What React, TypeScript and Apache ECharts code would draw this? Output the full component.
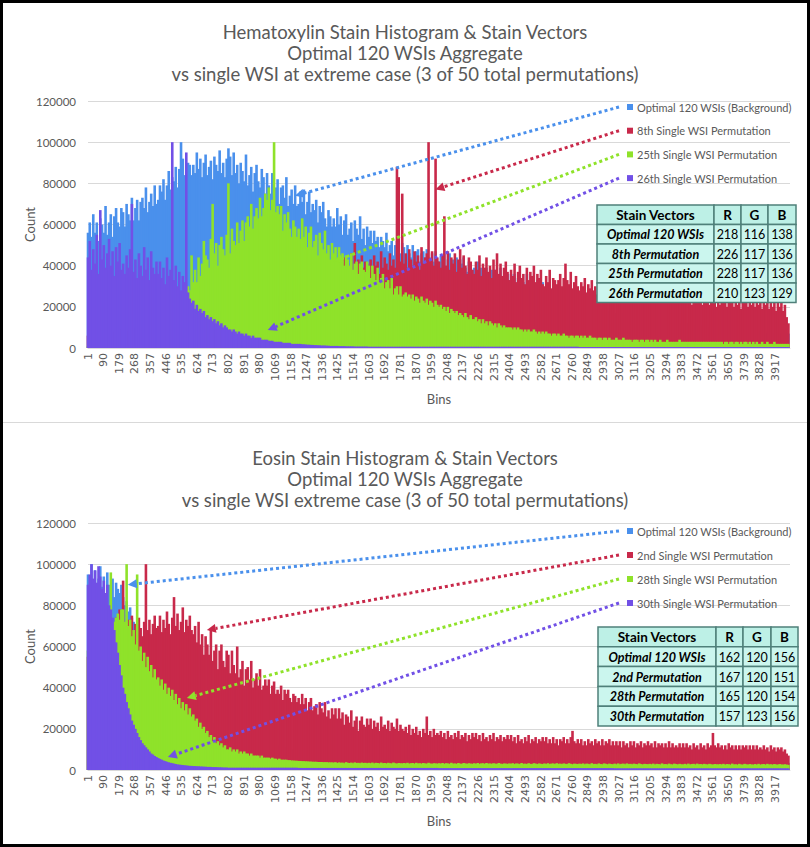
import React, { useEffect, useRef } from 'react';
import * as echarts from 'echarts';

// ---------- axes ----------
const BIN_STEP = 10;
const BINS: number[] = Array.from({ length: 400 }, (_, i) => 1 + i * BIN_STEP);
const X_MIN = 1;
const X_MAX = 4000;
const X_TICK_STEP = 89;
const Y_MAX = 120000;
const Y_STEP = 20000;

// ---------- titles / names ----------
const H_TITLE = [
  'Hematoxylin Stain Histogram & Stain Vectors',
  'Optimal 120 WSIs Aggregate',
  'vs single WSI at extreme case (3 of 50 total permutations)',
];
const E_TITLE = [
  'Eosin Stain Histogram & Stain Vectors',
  'Optimal 120 WSIs Aggregate',
  'vs single WSI extreme case (3 of 50 total permutations)',
];
const H_NAMES = [
  'Optimal 120 WSIs (Background)',
  '8th Single WSI Permutation',
  '25th Single WSI Permutation',
  '26th Single WSI Permutation',
];
const E_NAMES = [
  'Optimal 120 WSIs (Background)',
  '2nd Single WSI Permutation',
  '28th Single WSI Permutation',
  '30th Single WSI Permutation',
];
const COLORS = ['#4a90ec', '#c8294a', '#8fe22a', '#7150e6'];

// ---------- Hematoxylin counts (thousands); one value per 10-bin step, 20 per row (200 bins) ----------
const H_BLUE_K = [
  56, 61, 54, 65, 56, 61, 52, 63, 60, 56, 69, 55, 61, 65, 54, 64, 68, 61, 59, 68,
  66, 59, 70, 65, 62, 73, 62, 68, 72, 62, 71, 73, 68, 78, 66, 71, 75, 69, 79, 70,
  72, 79, 76, 82, 72, 79, 86, 77, 83, 81, 88, 78, 87, 100, 92, 84, 82, 90, 89, 84,
  89, 85, 95, 87, 92, 83, 90, 94, 84, 88, 91, 82, 93, 89, 86, 96, 85, 90, 83, 92,
  97, 93, 84, 95, 85, 89, 80, 90, 86, 81, 94, 79, 84, 88, 76, 85, 89, 81, 78, 87,
  83, 75, 85, 79, 75, 85, 73, 78, 82, 70, 78, 79, 73, 83, 69, 74, 77, 70, 79, 69,
  70, 76, 71, 77, 65, 71, 76, 66, 70, 67, 72, 61, 69, 66, 71, 63, 59, 67, 64, 59,
  63, 59, 68, 60, 64, 55, 62, 65, 55, 58, 61, 52, 62, 58, 55, 64, 53, 58, 50, 59,
  54, 57, 51, 57, 52, 54, 49, 54, 52, 49, 56, 47, 50, 52, 45, 50, 52, 47, 46, 51,
  49, 44, 50, 46, 44, 50, 44, 47, 48, 42, 46, 47, 44, 48, 41, 44, 46, 42, 47, 42,
  42, 45, 43, 46, 39, 43, 46, 40, 43, 40, 44, 38, 43, 41, 44, 39, 37, 42, 41, 38,
  39, 36, 42, 36, 39, 34, 38, 39, 34, 36, 38, 32, 38, 36, 34, 39, 32, 35, 31, 36,
  33, 36, 31, 36, 31, 34, 29, 33, 32, 29, 36, 28, 30, 32, 26, 31, 33, 28, 27, 32,
  27, 26, 27, 26, 26, 25, 26, 25, 25, 24, 25, 24, 24, 23, 24, 23, 23, 22, 23, 22,
  22, 21, 22, 21, 21, 20, 21, 20, 20, 19, 20, 19, 19, 19, 19, 18, 18, 18, 18, 17,
  17, 17, 17, 16, 17, 16, 16, 16, 16, 15, 16, 15, 15, 15, 15, 15, 14, 15, 14, 14,
  14, 14, 14, 13, 14, 13, 13, 13, 13, 13, 13, 12, 13, 12, 12, 12, 12, 12, 12, 11,
  12, 11, 12, 11, 11, 11, 11, 11, 11, 10, 11, 10, 10, 10, 10, 10, 10, 10, 10, 10,
  10, 9, 10, 9, 9, 9, 9, 9, 9, 9, 9, 9, 9, 8, 9, 8, 8, 8, 8, 8,
  8, 8, 8, 8, 8, 8, 8, 7, 8, 7, 7, 7, 7, 7, 7, 7, 7, 7, 7, 7,
];
const H_RED_K = [
  6, 6, 7, 6, 7, 7, 6, 7, 7, 7, 8, 7, 8, 8, 7, 8, 8, 8, 8, 9,
  8, 9, 9, 8, 9, 9, 10, 9, 9, 10, 10, 9, 10, 10, 11, 10, 10, 11, 11, 11,
  10, 11, 11, 12, 11, 12, 12, 11, 12, 12, 13, 12, 13, 13, 12, 13, 13, 14, 13, 14,
  14, 15, 14, 15, 16, 15, 16, 16, 15, 16, 17, 16, 17, 17, 16, 17, 18, 17, 18, 18,
  18, 19, 18, 19, 19, 20, 19, 20, 20, 19, 20, 21, 20, 21, 21, 20, 21, 22, 21, 22,
  22, 23, 22, 23, 24, 23, 24, 25, 24, 25, 26, 25, 26, 27, 26, 27, 28, 27, 28, 29,
  28, 31, 29, 34, 30, 33, 35, 30, 38, 32, 36, 31, 34, 37, 33, 35, 30, 36, 34, 38,
  34, 39, 36, 42, 35, 40, 44, 37, 41, 38, 46, 36, 51, 40, 43, 37, 45, 39, 42, 41,
  38, 43, 37, 45, 40, 42, 36, 47, 39, 44, 41, 38, 46, 40, 43, 39, 88, 83, 42, 75,
  41, 46, 39, 48, 43, 40, 47, 42, 45, 38, 49, 41, 44, 46, 100, 43, 47, 40, 92, 44,
  42, 39, 45, 64, 40, 47, 38, 44, 41, 46, 37, 43, 48, 39, 45, 40, 36, 44, 42, 38,
  36, 42, 38, 45, 35, 41, 39, 44, 37, 40, 34, 43, 38, 46, 36, 41, 35, 39, 42, 37,
  33, 38, 35, 41, 32, 37, 40, 34, 36, 31, 39, 33, 37, 35, 40, 32, 36, 34, 38, 31,
  30, 35, 32, 38, 29, 34, 33, 31, 33, 36, 30, 34, 41, 33, 31, 37, 29, 32, 35, 30,
  28, 32, 30, 34, 27, 31, 29, 33, 28, 30, 26, 32, 29, 31, 27, 33, 28, 30, 26, 31,
  26, 30, 28, 33, 25, 29, 27, 31, 24, 28, 34, 26, 29, 27, 30, 25, 28, 26, 29, 24,
  24, 28, 26, 30, 23, 27, 25, 29, 23, 26, 24, 28, 22, 27, 25, 29, 23, 26, 24, 27,
  22, 27, 24, 28, 21, 26, 23, 27, 22, 25, 21, 26, 23, 28, 21, 25, 22, 26, 20, 25,
  21, 25, 23, 29, 20, 24, 22, 26, 20, 24, 21, 25, 19, 24, 22, 28, 20, 23, 21, 25,
  20, 24, 21, 26, 19, 23, 21, 25, 19, 22, 20, 24, 18, 23, 20, 22, 18, 21, 15, 12,
];
const H_GREEN_K = [
  1, 1, 1, 1, 1, 1, 1, 1, 1, 1, 1, 1, 1, 1, 1, 1, 1, 1, 1, 1,
  1, 1, 1, 1, 1, 1, 1, 1, 1, 1, 1, 1, 1, 2, 1, 2, 2, 2, 2, 2,
  2, 2, 2, 3, 3, 3, 3, 4, 4, 5, 7, 9, 12, 15, 18, 22, 26, 30, 28, 45,
  32, 38, 32, 44, 35, 41, 52, 45, 43, 39, 53, 70, 46, 51, 40, 50, 54, 48, 45, 55,
  80, 46, 58, 52, 50, 61, 51, 57, 62, 52, 61, 64, 59, 70, 58, 64, 68, 63, 73, 64,
  68, 75, 72, 78, 67, 72, 100, 66, 69, 65, 69, 57, 65, 61, 66, 58, 54, 62, 59, 54,
  58, 53, 63, 54, 59, 49, 56, 59, 49, 52, 55, 45, 56, 51, 48, 57, 46, 50, 43, 51,
  46, 49, 43, 49, 43, 46, 40, 45, 43, 40, 46, 38, 41, 42, 36, 41, 42, 38, 37, 42,
  40, 34, 40, 36, 33, 39, 32, 34, 36, 29, 32, 33, 29, 34, 26, 29, 30, 26, 30, 25,
  26, 27, 25, 26, 24, 26, 23, 25, 24, 22, 25, 23, 22, 24, 21, 23, 22, 20, 23, 21,
  20, 21, 19, 20, 18, 20, 17, 19, 18, 17, 18, 16, 17, 16, 15, 17, 15, 14, 16, 14,
  14, 15, 13, 14, 12, 14, 12, 13, 11, 13, 12, 11, 12, 10, 12, 11, 10, 11, 10, 10,
  10, 10, 9, 10, 9, 10, 9, 9, 8, 9, 8, 9, 8, 8, 9, 8, 7, 8, 7, 8,
  7, 8, 7, 7, 6, 7, 7, 6, 7, 6, 6, 7, 6, 6, 5, 6, 6, 5, 6, 6,
  5, 6, 5, 6, 5, 5, 6, 5, 5, 5, 4, 5, 5, 4, 5, 5, 4, 5, 4, 4,
  4, 5, 4, 4, 4, 5, 4, 4, 4, 4, 3, 4, 4, 4, 3, 4, 4, 3, 4, 4,
  3, 4, 3, 4, 3, 3, 4, 3, 3, 3, 4, 3, 3, 3, 3, 3, 3, 4, 3, 3,
  3, 3, 3, 3, 3, 3, 3, 3, 3, 3, 3, 3, 3, 3, 3, 3, 3, 3, 3, 3,
  3, 3, 2, 3, 3, 2, 3, 3, 2, 3, 3, 2, 3, 2, 3, 3, 2, 3, 2, 3,
  2, 3, 2, 2, 3, 2, 2, 3, 2, 2, 2, 3, 2, 2, 2, 2, 2, 2, 2, 2,
];
const H_PURPLE_K = [
  44, 52, 38, 48, 41, 55, 36, 67, 43, 50, 39, 46, 53, 40, 47, 35, 49, 42, 51, 38,
  41, 36, 45, 39, 48, 70, 37, 43, 34, 46, 40, 35, 49, 38, 44, 33, 47, 39, 36, 42,
  36, 42, 34, 39, 31, 44, 35, 38, 100, 33, 40, 30, 37, 28, 35, 32, 95, 27, 24, 22,
  23, 19, 21, 18, 19, 17, 18, 15, 16, 14, 15, 13, 14, 12, 13, 11, 12, 10, 11, 10,
  9, 9, 8, 9, 8, 7, 8, 7, 7, 6, 7, 6, 6, 5, 6, 5, 5, 5, 5, 4,
  4, 4, 4, 3.5, 3.5, 3.5, 3, 3, 3, 3, 3, 2.5, 2.5, 2.5, 2.5, 2.5, 2, 2, 2, 2,
  2, 2, 1.8, 1.8, 1.7, 1.6, 1.6, 1.5, 1.5, 1.4, 1.4, 1.3, 1.3, 1.2, 1.2, 1.2, 1.1, 1.1, 1, 1,
  1, 1, 1, 0.9, 0.9, 0.9, 0.9, 0.8, 0.8, 0.8, 0.8, 0.8, 0.7, 0.7, 0.7, 0.7, 0.7, 0.7, 0.7, 0.7,
  0.6, 0.6, 0.6, 0.6, 0.6, 0.6, 0.6, 0.6, 0.6, 0.6, 0.6, 0.6, 0.6, 0.6, 0.6, 0.6, 0.6, 0.6, 0.6, 0.6,
  0.6, 0.6, 0.6, 0.6, 0.6, 0.6, 0.6, 0.6, 0.6, 0.6, 0.6, 0.6, 0.6, 0.6, 0.6, 0.6, 0.6, 0.6, 0.6, 0.6,
  0.6, 0.6, 0.6, 0.6, 0.6, 0.6, 0.6, 0.6, 0.6, 0.6, 0.6, 0.6, 0.6, 0.6, 0.6, 0.6, 0.6, 0.6, 0.6, 0.6,
  0.6, 0.6, 0.6, 0.6, 0.6, 0.6, 0.6, 0.6, 0.6, 0.6, 0.6, 0.6, 0.6, 0.6, 0.6, 0.6, 0.6, 0.6, 0.6, 0.6,
  0.6, 0.6, 0.6, 0.6, 0.6, 0.6, 0.6, 0.6, 0.6, 0.6, 0.6, 0.6, 0.6, 0.6, 0.6, 0.6, 0.6, 0.6, 0.6, 0.6,
  0.6, 0.6, 0.6, 0.6, 0.6, 0.6, 0.6, 0.6, 0.6, 0.6, 0.6, 0.6, 0.6, 0.6, 0.6, 0.6, 0.6, 0.6, 0.6, 0.6,
  0.5, 0.5, 0.5, 0.5, 0.5, 0.5, 0.5, 0.5, 0.5, 0.5, 0.5, 0.5, 0.5, 0.5, 0.5, 0.5, 0.5, 0.5, 0.5, 0.5,
  0.5, 0.5, 0.5, 0.5, 0.5, 0.5, 0.5, 0.5, 0.5, 0.5, 0.5, 0.5, 0.5, 0.5, 0.5, 0.5, 0.5, 0.5, 0.5, 0.5,
  0.5, 0.5, 0.5, 0.5, 0.5, 0.5, 0.5, 0.5, 0.5, 0.5, 0.5, 0.5, 0.5, 0.5, 0.5, 0.5, 0.5, 0.5, 0.5, 0.5,
  0.5, 0.5, 0.5, 0.5, 0.5, 0.5, 0.5, 0.5, 0.5, 0.5, 0.5, 0.5, 0.5, 0.5, 0.5, 0.5, 0.5, 0.5, 0.5, 0.5,
  0.5, 0.5, 0.5, 0.5, 0.5, 0.5, 0.5, 0.5, 0.5, 0.5, 0.5, 0.5, 0.5, 0.5, 0.5, 0.5, 0.5, 0.5, 0.5, 0.5,
  0.5, 0.5, 0.5, 0.5, 0.5, 0.5, 0.5, 0.5, 0.5, 0.5, 0.5, 0.5, 0.5, 0.5, 0.5, 0.5, 0.5, 0.5, 0.5, 0.5,
];

// ---------- Eosin counts (thousands) ----------
const E_BLUE_K = [
  95, 88, 100, 91, 97, 86, 93, 99, 89, 94, 85, 96, 90, 87, 93, 84, 91, 88, 86, 90,
  84, 80, 82, 77, 79, 74, 72, 70, 67, 65, 63, 61, 59, 57, 55, 53, 51, 50, 48, 47,
  46, 45, 44, 43, 42, 41, 40, 39, 38, 37, 36, 35, 34, 34, 33, 32, 31, 31, 30, 29,
  29, 28, 27, 27, 26, 26, 25, 25, 24, 24, 23, 23, 22, 22, 22, 21, 21, 20, 20, 20,
  19, 19, 19, 18, 18, 18, 17, 17, 17, 16, 16, 16, 15, 15, 15, 15, 14, 14, 14, 14,
  13, 13, 13, 13, 12, 12, 12, 12, 12, 11, 11, 11, 11, 11, 10, 10, 10, 10, 10, 10,
  10, 9, 9, 9, 9, 9, 9, 8, 8, 8, 8, 8, 8, 8, 8, 7, 7, 7, 7, 7,
  7, 7, 7, 7, 6, 6, 6, 6, 6, 6, 6, 6, 6, 6, 5, 5, 5, 5, 5, 5,
  5, 5, 5, 5, 5, 5, 5, 5, 5, 5, 5, 5, 5, 5, 5, 5, 5, 5, 5, 5,
  4.5, 4.5, 4.5, 4.5, 4.5, 4.5, 4.5, 4.5, 4.5, 4.5, 4.5, 4.5, 4.5, 4.5, 4.5, 4.5, 4.5, 4.5, 4.5, 4.5,
  4, 4, 4, 4, 4, 4, 4, 4, 4, 4, 4, 4, 4, 4, 4, 4, 4, 4, 4, 4,
  4, 4, 4, 4, 4, 4, 4, 4, 4, 4, 4, 4, 4, 4, 4, 4, 4, 4, 4, 4,
  4, 4, 4, 4, 4, 4, 4, 4, 4, 4, 4, 4, 4, 4, 4, 4, 4, 4, 4, 4,
  4, 4, 4, 4, 4, 4, 4, 4, 4, 4, 4, 4, 4, 4, 4, 4, 4, 4, 4, 4,
  4, 4, 4, 4, 4, 4, 4, 4, 4, 4, 4, 4, 4, 4, 4, 4, 4, 4, 4, 4,
  3.5, 3.5, 3.5, 3.5, 3.5, 3.5, 3.5, 3.5, 3.5, 3.5, 3.5, 3.5, 3.5, 3.5, 3.5, 3.5, 3.5, 3.5, 3.5, 3.5,
  3.5, 3.5, 3.5, 3.5, 3.5, 3.5, 3.5, 3.5, 3.5, 3.5, 3.5, 3.5, 3.5, 3.5, 3.5, 3.5, 3.5, 3.5, 3.5, 3.5,
  3.5, 3.5, 3.5, 3.5, 3.5, 3.5, 3.5, 3.5, 3.5, 3.5, 3.5, 3.5, 3.5, 3.5, 3.5, 3.5, 3.5, 3.5, 3.5, 3.5,
  3.5, 3.5, 3.5, 3.5, 3.5, 3.5, 3.5, 3.5, 3.5, 3.5, 3.5, 3.5, 3.5, 3.5, 3.5, 3.5, 3.5, 3.5, 3.5, 3.5,
  3.5, 3.5, 3.5, 3.5, 3.5, 3.5, 3.5, 3.5, 3.5, 3.5, 3.5, 3.5, 3.5, 3.5, 3.5, 3.5, 3.5, 3.5, 3.5, 3.5,
];
const E_RED_K = [
  55, 56, 57, 58, 58, 59, 60, 61, 62, 62, 63, 64, 65, 66, 66, 68, 74, 70, 78, 72,
  92, 70, 66, 73, 68, 75, 64, 71, 67, 74, 69, 65, 72, 100, 68, 73, 66, 71, 75, 69,
  70, 75, 67, 73, 69, 77, 71, 66, 74, 84, 70, 76, 68, 72, 79, 67, 73, 70, 75, 68,
  66, 70, 62, 72, 61, 66, 56, 65, 61, 56, 68, 53, 58, 61, 49, 58, 61, 53, 50, 58,
  56, 47, 58, 51, 47, 60, 45, 49, 53, 41, 49, 50, 44, 53, 40, 44, 47, 41, 49, 39,
  41, 44, 41, 44, 37, 41, 43, 37, 39, 37, 41, 34, 39, 37, 39, 35, 33, 37, 36, 33,
  35, 32, 37, 32, 35, 29, 33, 35, 29, 31, 32, 27, 33, 30, 28, 33, 26, 29, 25, 30,
  27, 30, 25, 30, 25, 28, 22, 27, 26, 23, 29, 21, 24, 26, 19, 24, 26, 22, 21, 25,
  22, 25, 20, 24, 21, 23, 19, 26, 21, 22, 20, 24, 19, 23, 21, 20, 25, 19, 22, 20,
  19, 21, 18, 22, 17, 20, 18, 21, 17, 19, 16, 20, 18, 26, 17, 19, 16, 20, 17, 18,
  17, 19, 16, 18, 15, 19, 16, 17, 15, 18, 16, 19, 15, 17, 16, 18, 14, 17, 15, 18,
  16, 18, 15, 17, 14, 18, 15, 16, 14, 17, 15, 18, 14, 16, 15, 17, 14, 16, 15, 17,
  15, 17, 14, 16, 13, 17, 14, 15, 13, 16, 14, 17, 13, 15, 14, 16, 13, 15, 14, 16,
  14, 16, 13, 15, 13, 16, 13, 15, 12, 15, 14, 16, 13, 15, 13, 16, 19, 14, 13, 15,
  13, 15, 12, 14, 12, 15, 13, 14, 12, 15, 13, 14, 12, 15, 12, 14, 13, 15, 12, 14,
  12, 14, 12, 14, 11, 14, 12, 13, 11, 14, 12, 14, 11, 13, 12, 14, 11, 13, 12, 14,
  12, 13, 11, 14, 11, 13, 12, 13, 11, 13, 11, 14, 11, 13, 11, 12, 11, 13, 11, 13,
  11, 13, 11, 12, 10, 13, 11, 12, 10, 13, 11, 12, 10, 13, 11, 12, 18, 12, 11, 13,
  11, 12, 10, 12, 10, 13, 11, 12, 10, 12, 10, 12, 10, 12, 11, 12, 10, 12, 10, 12,
  10, 12, 10, 11, 10, 12, 10, 11, 9, 12, 10, 11, 9, 11, 10, 11, 9, 10, 8, 7,
];
const E_GREEN_K = [
  58, 59, 60, 61, 61, 62, 63, 63, 64, 65, 66, 67, 69, 96, 70, 72, 74, 76, 73, 78,
  78, 72, 100, 70, 73, 65, 68, 61, 95, 58, 60, 53, 57, 50, 55, 48, 51, 45, 49, 44,
  45, 41, 44, 39, 42, 37, 40, 36, 39, 34, 37, 32, 35, 30, 33, 29, 32, 27, 30, 26,
  27, 24, 25, 21, 23, 20, 21, 18, 19, 16, 17, 14, 16, 13, 14, 12, 13, 11, 12, 10,
  10, 11, 9, 10, 9, 10, 8, 9, 8, 9, 8, 8, 7, 8, 7, 7, 7, 7, 6, 7,
  6, 6, 6, 6, 5.5, 6, 5.5, 5.5, 5, 5.5, 5, 5, 5, 5, 4.8, 4.8, 4.6, 4.6, 4.5, 4.5,
  4.4, 4.4, 4.3, 4.3, 4.2, 4.2, 4.1, 4.1, 4, 4, 4, 3.9, 3.9, 3.9, 3.8, 3.8, 3.8, 3.7, 3.7, 3.7,
  3.6, 3.8, 3.4, 3.7, 3.5, 3.6, 3.3, 3.8, 3.5, 3.4, 3.6, 3.3, 3.7, 3.4, 3.5, 3.3, 3.6, 3.4, 3.5, 3.3,
  3.5, 3.3, 3.6, 3.2, 3.5, 3.4, 3.2, 3.6, 3.3, 3.4, 3.2, 3.5, 3.3, 3.2, 3.6, 3.3, 3.1, 3.4, 3.3, 3.2,
  3.4, 3.2, 3.5, 3.1, 3.3, 3.4, 3.1, 3.5, 3.2, 3.3, 3.1, 3.4, 3.2, 3.1, 3.5, 3.2, 3.0, 3.3, 3.2, 3.1,
  3.3, 3.1, 3.4, 3.0, 3.3, 3.2, 3.0, 3.5, 3.1, 3.2, 3.0, 3.4, 3.1, 3.0, 3.4, 3.2, 3.0, 3.3, 3.1, 3.0,
  3.3, 3.0, 3.4, 3.0, 3.2, 3.3, 3.0, 3.4, 3.1, 3.2, 3.0, 3.3, 3.1, 3.0, 3.4, 3.1, 2.9, 3.2, 3.1, 3.0,
  3.2, 3.0, 3.3, 2.9, 3.2, 3.1, 2.9, 3.4, 3.0, 3.1, 2.9, 3.3, 3.0, 2.9, 3.3, 3.1, 2.9, 3.2, 3.0, 2.9,
  3.2, 2.9, 3.3, 2.9, 3.1, 3.2, 2.9, 3.3, 3.0, 3.1, 2.9, 3.2, 3.0, 2.9, 3.3, 3.0, 2.8, 3.1, 3.0, 2.9,
  3.1, 2.9, 3.2, 2.8, 3.1, 3.0, 2.8, 3.3, 2.9, 3.0, 2.8, 3.2, 2.9, 2.8, 3.2, 3.0, 2.8, 3.1, 2.9, 2.8,
  3.1, 2.8, 3.2, 2.8, 3.0, 3.1, 2.8, 3.2, 2.9, 3.0, 2.8, 3.1, 2.9, 2.8, 3.2, 2.9, 2.7, 3.0, 2.9, 2.8,
  3.0, 2.8, 3.1, 2.7, 3.0, 2.9, 2.7, 3.2, 2.8, 2.9, 2.7, 3.1, 2.8, 2.7, 3.1, 2.9, 2.7, 3.0, 2.8, 2.7,
  3.0, 2.7, 3.1, 2.7, 2.9, 3.0, 2.7, 3.1, 2.8, 2.9, 2.7, 3.0, 2.8, 2.7, 3.0, 2.8, 2.6, 2.9, 2.8, 2.7,
  2.9, 2.7, 3.0, 2.6, 2.9, 2.8, 2.6, 3.1, 2.7, 2.8, 2.6, 3.0, 2.7, 2.6, 3.0, 2.8, 2.6, 2.9, 2.7, 2.6,
  2.9, 2.6, 3.0, 2.6, 2.8, 2.9, 2.6, 3.0, 2.7, 2.8, 2.6, 2.9, 2.7, 2.6, 2.9, 2.7, 2.6, 2.8, 2.6, 2.5,
];
const E_PURPLE_K = [
  90, 95, 100, 93, 97, 91, 99, 94, 88, 92, 86, 90, 80, 78, 74, 68, 62, 57, 51, 46,
  40, 37, 33, 30, 27, 24, 22, 20, 18, 16, 14.5, 13, 12, 11, 10, 9, 8, 7.5, 6.8, 6.3,
  5.8, 5.4, 5, 4.6, 4.3, 4, 3.7, 3.5, 3.3, 3.1, 2.9, 2.7, 2.6, 2.5, 2.4, 2.3, 2.2, 2.1, 2, 2,
  1.9, 1.9, 1.8, 1.8, 1.7, 1.7, 1.6, 1.6, 1.5, 1.5, 1.5, 1.4, 1.4, 1.4, 1.3, 1.3, 1.3, 1.2, 1.2, 1.2,
  1.1, 1.1, 1.1, 1.1, 1.1, 1.1, 1.1, 1.1, 1.1, 1.1, 1.1, 1.1, 1.1, 1.1, 1.1, 1.1, 1.1, 1.1, 1.1, 1.1,
  1.1, 1.1, 1.1, 1.1, 1.1, 1.1, 1.1, 1.1, 1.1, 1.1, 1.1, 1.1, 1.1, 1.1, 1.1, 1.1, 1.1, 1.1, 1.1, 1.1,
  1, 1, 1, 1, 1, 1, 1, 1, 1, 1, 1, 1, 1, 1, 1, 1, 1, 1, 1, 1,
  1, 1, 1, 1, 1, 1, 1, 1, 1, 1, 1, 1, 1, 1, 1, 1, 1, 1, 1, 1,
  1, 1, 1, 1, 1, 1, 1, 1, 1, 1, 1, 1, 1, 1, 1, 1, 1, 1, 1, 1,
  1, 1, 1, 1, 1, 1, 1, 1, 1, 1, 1, 1, 1, 1, 1, 1, 1, 1, 1, 1,
  0.9, 0.9, 0.9, 0.9, 0.9, 0.9, 0.9, 0.9, 0.9, 0.9, 0.9, 0.9, 0.9, 0.9, 0.9, 0.9, 0.9, 0.9, 0.9, 0.9,
  0.9, 0.9, 0.9, 0.9, 0.9, 0.9, 0.9, 0.9, 0.9, 0.9, 0.9, 0.9, 0.9, 0.9, 0.9, 0.9, 0.9, 0.9, 0.9, 0.9,
  0.9, 0.9, 0.9, 0.9, 0.9, 0.9, 0.9, 0.9, 0.9, 0.9, 0.9, 0.9, 0.9, 0.9, 0.9, 0.9, 0.9, 0.9, 0.9, 0.9,
  0.9, 0.9, 0.9, 0.9, 0.9, 0.9, 0.9, 0.9, 0.9, 0.9, 0.9, 0.9, 0.9, 0.9, 0.9, 0.9, 0.9, 0.9, 0.9, 0.9,
  0.9, 0.9, 0.9, 0.9, 0.9, 0.9, 0.9, 0.9, 0.9, 0.9, 0.9, 0.9, 0.9, 0.9, 0.9, 0.9, 0.9, 0.9, 0.9, 0.9,
  0.8, 0.8, 0.8, 0.8, 0.8, 0.8, 0.8, 0.8, 0.8, 0.8, 0.8, 0.8, 0.8, 0.8, 0.8, 0.8, 0.8, 0.8, 0.8, 0.8,
  0.8, 0.8, 0.8, 0.8, 0.8, 0.8, 0.8, 0.8, 0.8, 0.8, 0.8, 0.8, 0.8, 0.8, 0.8, 0.8, 0.8, 0.8, 0.8, 0.8,
  0.8, 0.8, 0.8, 0.8, 0.8, 0.8, 0.8, 0.8, 0.8, 0.8, 0.8, 0.8, 0.8, 0.8, 0.8, 0.8, 0.8, 0.8, 0.8, 0.8,
  0.8, 0.8, 0.8, 0.8, 0.8, 0.8, 0.8, 0.8, 0.8, 0.8, 0.8, 0.8, 0.8, 0.8, 0.8, 0.8, 0.8, 0.8, 0.8, 0.8,
  0.8, 0.8, 0.8, 0.8, 0.8, 0.8, 0.8, 0.8, 0.8, 0.8, 0.8, 0.8, 0.8, 0.8, 0.8, 0.8, 0.8, 0.8, 0.8, 0.8,
];

// ---------- stain vector tables ----------
const TABLE_HEAD = ['Stain Vectors', 'R', 'G', 'B'];
const H_TABLE_LABELS = ['Optimal 120 WSIs', '8th Permutation', '25th Permutation', '26th Permutation'];
const H_TABLE_R = [218, 226, 228, 210];
const H_TABLE_G = [116, 117, 117, 123];
const H_TABLE_B = [138, 136, 136, 129];
const E_TABLE_LABELS = ['Optimal 120 WSIs', '2nd Permutation', '28th Permutation', '30th Permutation'];
const E_TABLE_R = [162, 167, 165, 157];
const E_TABLE_G = [120, 120, 120, 123];
const E_TABLE_B = [156, 151, 154, 156];

// ---------- arrow targets [bin, count] ----------
const H_ARROW_TARGETS = [[1180, 74000], [1980, 77000], [1400, 42000], [1025, 8700]];
const E_ARROW_TARGETS = [[228, 90000], [678, 68000], [564, 35000], [456, 6300]];

// ---------- layout ----------
const W = 810;
const H = 847;
const FONT = 'Lato, "Open Sans", sans-serif';
const GRAY = '#595959';
const PANELS = [
  { gridTop: 101, gridBottom: 499, titleTop: 21, legendCenter: 107, legendPitch: 23.7, tableX: 597, tableY: 205, colW: [117, 27, 27, 28], rowH: 19.5 },
  { gridTop: 523, gridBottom: 77, titleTop: 447, legendCenter: 531, legendPitch: 24, tableX: 598, tableY: 627, colW: [118, 27, 28, 27], rowH: 19.8 },
];
const LEGEND_LEFT = 627;
const LEGEND_LINE_H = 12;
const ARROW_START_X = 619;

function barSeries(name: string, color: string, valuesK: number[], idx: number) {
  return {
    type: 'bar',
    name,
    xAxisIndex: idx,
    yAxisIndex: idx,
    data: BINS.map((b, i) => [b, valuesK[i] * 1000]),
    barWidth: 2.6,
    barGap: '-100%',
    itemStyle: { color },
    silent: true,
    emphasis: { disabled: true },
  };
}

function tableGraphics(p: any, labels: string[], r: number[], g: number[], b: number[]) {
  const els: any[] = [];
  const rows = [TABLE_HEAD, ...labels.map((l, i) => [l, String(r[i]), String(g[i]), String(b[i])])];
  rows.forEach((row, ri) => {
    let x = p.tableX;
    row.forEach((cell, ci) => {
      const w = p.colW[ci];
      const y = p.tableY + ri * p.rowH;
      els.push({
        type: 'rect',
        z: 100,
        shape: { x, y, width: w, height: p.rowH },
        style: { fill: ri === 0 ? '#bdf0e6' : '#cbf6ee', stroke: '#4f807a', lineWidth: 1.5 },
      });
      const header = ri === 0;
      const label = ci === 0 && !header;
      els.push({
        type: 'text',
        z: 101,
        x: x + w / 2,
        y: y + p.rowH / 2 + 0.5,
        style: {
          text: cell,
          align: 'center',
          verticalAlign: 'middle',
          fontFamily: FONT,
          fontSize: header ? 13.5 : 12.5,
          fontWeight: header || label ? 'bold' : 'normal',
          fontStyle: label ? 'italic' : 'normal',
          fill: '#000',
        },
      });
      x += w;
    });
  });
  return els;
}

export default function App() {
  const ref = useRef<HTMLDivElement>(null);
  useEffect(() => {
    if (!ref.current) return;
    const chart = echarts.init(ref.current, undefined, { renderer: 'svg' });

    const grids = PANELS.map((p) => ({ left: 88, right: 20, top: p.gridTop, bottom: p.gridBottom, containLabel: false }));
    const xAxes = PANELS.map((_, i) => ({
      type: 'value',
      gridIndex: i,
      min: X_MIN,
      max: X_MAX,
      interval: X_TICK_STEP,
      name: 'Bins',
      nameLocation: 'middle',
      nameGap: 44,
      nameMoveOverlap: false,
      nameTextStyle: { fontFamily: FONT, fontSize: 13, color: GRAY },
      axisLine: { show: true, lineStyle: { color: '#d9d9d9' } },
      axisTick: { show: false },
      splitLine: { show: false },
      axisLabel: {
        rotate: 90,
        margin: 5,
        fontFamily: '"DejaVu Sans", sans-serif',
        fontSize: 11,
        color: GRAY,
        showMaxLabel: false,
        formatter: (v: number) => ((v - X_MIN) % X_TICK_STEP === 0 ? String(v) : ''),
      },
    }));
    const yAxes = PANELS.map((_, i) => ({
      type: 'value',
      gridIndex: i,
      min: 0,
      max: Y_MAX,
      interval: Y_STEP,
      name: 'Count',
      nameLocation: 'middle',
      nameGap: 52,
      nameMoveOverlap: false,
      nameTextStyle: { fontFamily: FONT, fontSize: 13, color: GRAY },
      axisLine: { show: false },
      axisTick: { show: false },
      splitLine: { lineStyle: { color: '#d9d9d9', width: 1 } },
      axisLabel: { fontFamily: FONT, fontSize: 11.5, color: GRAY, margin: 12, formatter: (v: number) => String(v) },
    }));

    const hVals = [H_BLUE_K, H_RED_K, H_GREEN_K, H_PURPLE_K];
    const eVals = [E_BLUE_K, E_RED_K, E_GREEN_K, E_PURPLE_K];
    const series = [
      ...H_NAMES.map((n, i) => barSeries(n, COLORS[i], hVals[i], 0)),
      ...E_NAMES.map((n, i) => barSeries(n, COLORS[i], eVals[i], 1)),
    ];

    const legends = [H_NAMES, E_NAMES].map((names, i) => ({
      orient: 'vertical',
      left: LEGEND_LEFT,
      top: PANELS[i].legendCenter - LEGEND_LINE_H / 2,
      padding: 0,
      itemWidth: 6,
      itemHeight: 6,
      itemGap: PANELS[i].legendPitch - LEGEND_LINE_H,
      icon: 'rect',
      selectedMode: false,
      data: names,
      textStyle: { fontFamily: FONT, fontSize: 11, color: GRAY, lineHeight: LEGEND_LINE_H, padding: [0, 0, 0, -1] },
    }));

    const titles = [H_TITLE, E_TITLE].map((lines, i) => ({
      text: lines.join('\n'),
      left: 'center',
      top: PANELS[i].titleTop,
      padding: 0,
      textStyle: { fontFamily: FONT, fontSize: 18.5, fontWeight: 'normal', color: GRAY, lineHeight: 21 },
    }));

    chart.setOption({
      animation: false,
      backgroundColor: '#ffffff',
      title: titles,
      legend: legends,
      grid: grids,
      xAxis: xAxes,
      yAxis: yAxes,
      series,
    });

    // annotations (arrows, tables, frame)
    const graphics: any[] = [];
    graphics.push({
      type: 'rect', z: 200,
      shape: { x: 1.5, y: 1.5, width: W - 3, height: H - 3 },
      style: { fill: 'none', stroke: '#000', lineWidth: 3 },
    });
    graphics.push({
      type: 'line', z: 200,
      shape: { x1: 3, y1: 422.5, x2: W - 3, y2: 422.5 },
      style: { stroke: '#d9d9d9', lineWidth: 1 },
    });
    [H_ARROW_TARGETS, E_ARROW_TARGETS].forEach((targets, gi) => {
      const p = PANELS[gi];
      targets.forEach((t, k) => {
        const pt = chart.convertToPixel({ gridIndex: gi } as any, t) as number[];
        const px = pt[0];
        const py = pt[1];
        const sx = ARROW_START_X;
        const sy = p.legendCenter + k * p.legendPitch;
        const dx = px - sx;
        const dy = py - sy;
        const len = Math.hypot(dx, dy);
        const ux = dx / len;
        const uy = dy / len;
        const headLen = 9;
        const headW = 4.5;
        const bx = px - ux * headLen;
        const by = py - uy * headLen;
        graphics.push({
          type: 'line', z: 150,
          shape: { x1: sx, y1: sy, x2: bx, y2: by },
          style: { stroke: COLORS[k], lineWidth: 3, lineDash: [3, 3] },
        });
        graphics.push({
          type: 'polygon', z: 150,
          shape: { points: [[px, py], [bx - uy * headW, by + ux * headW], [bx + uy * headW, by - ux * headW]] },
          style: { fill: COLORS[k] },
        });
      });
    });
    graphics.push(...tableGraphics(PANELS[0], H_TABLE_LABELS, H_TABLE_R, H_TABLE_G, H_TABLE_B));
    graphics.push(...tableGraphics(PANELS[1], E_TABLE_LABELS, E_TABLE_R, E_TABLE_G, E_TABLE_B));

    chart.setOption({ graphic: graphics });

    return () => chart.dispose();
  }, []);

  return <div ref={ref} style={{ position: 'absolute', left: 0, top: 0, width: W, height: H }} />;
}
